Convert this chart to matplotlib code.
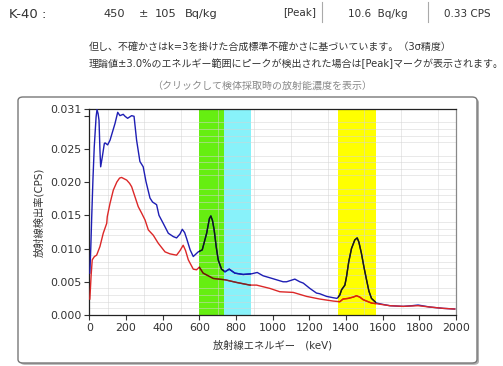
import matplotlib
matplotlib.use('Agg')
import matplotlib.pyplot as plt
import matplotlib.patches as mpatches
from matplotlib.colors import to_rgb
import numpy as np

plt.rcParams['font.family'] = ['DejaVu Sans', 'Noto Sans CJK JP']

# ===== spectrum (keV, CPS) =====
BLUE_KEV = [3, 8, 13, 20, 27, 37, 42, 48, 53, 58, 62, 71, 82, 86, 100, 113, 140, 155,
            167, 185, 195, 209, 231, 244, 258, 276, 294, 309, 331, 345, 367, 380, 403,
            431, 458, 476, 495, 507, 520, 531, 550, 567, 594, 616, 640, 655, 663, 672,
            681, 692, 703, 721, 740, 763, 794, 839, 885, 916, 948, 985, 1021, 1057,
            1076, 1121, 1148, 1167, 1203, 1239, 1257, 1294, 1330, 1351, 1366, 1376,
            1394, 1403, 1415, 1430, 1448, 1461, 1470, 1484, 1498, 1512, 1525, 1539,
            1566, 1600, 1639, 1712, 1760, 1793, 1857, 1930, 1993]
BLUE_CPS = [0.0063, 0.0100, 0.0146, 0.0205, 0.0253, 0.0298, 0.0309, 0.0303, 0.0293,
            0.0248, 0.0223, 0.0238, 0.0258, 0.0259, 0.0256, 0.0263, 0.0288, 0.0305,
            0.0300, 0.0302, 0.0299, 0.0296, 0.0300, 0.0299, 0.0263, 0.0231, 0.0223,
            0.0201, 0.0176, 0.0170, 0.0166, 0.0150, 0.0138, 0.0123, 0.0118, 0.0116,
            0.0122, 0.0129, 0.0124, 0.0115, 0.0098, 0.0088, 0.0095, 0.0098, 0.0123,
            0.0145, 0.0149, 0.0142, 0.0128, 0.0103, 0.0083, 0.0069, 0.0065, 0.0069,
            0.0063, 0.0061, 0.0062, 0.0064, 0.0059, 0.0056, 0.0053, 0.0050, 0.0050,
            0.0054, 0.0050, 0.0048, 0.0040, 0.0033, 0.0032, 0.0028, 0.0026, 0.0025,
            0.0030, 0.0038, 0.0045, 0.0058, 0.0080, 0.0100, 0.0113, 0.0116, 0.0110,
            0.0093, 0.0072, 0.0053, 0.0036, 0.0025, 0.0018, 0.0016, 0.0014, 0.0013,
            0.0014, 0.0015, 0.0012, 0.0010, 0.0009]

RED_KEV = [3, 10, 16, 28, 40, 58, 76, 95, 98, 113, 131, 150, 165, 176, 190, 204, 220,
           231, 249, 267, 286, 304, 322, 349, 376, 413, 440, 476, 495, 512, 525, 540,
           567, 585, 600, 621, 676, 740, 803, 876, 912, 985, 1039, 1112, 1185, 1257,
           1330, 1366, 1384, 1412, 1440, 1457, 1475, 1494, 1539, 1566, 1639, 1712,
           1793, 1857, 1930, 1993]
RED_CPS = [0.0024, 0.0060, 0.0083, 0.0088, 0.0090, 0.0103, 0.0123, 0.0138, 0.0148,
           0.0168, 0.0188, 0.0200, 0.0206, 0.0207, 0.0205, 0.0203, 0.0198, 0.0193,
           0.0178, 0.0163, 0.0153, 0.0143, 0.0128, 0.0120, 0.0108, 0.0095, 0.0092,
           0.0090, 0.0097, 0.0105, 0.0097, 0.0083, 0.0069, 0.0068, 0.0072, 0.0063,
           0.0055, 0.0053, 0.0049, 0.0045, 0.0045, 0.0040, 0.0035, 0.0034, 0.0028,
           0.0024, 0.0021, 0.0020, 0.0024, 0.0025, 0.0027, 0.0029, 0.0027, 0.0023,
           0.0018, 0.0017, 0.0014, 0.0013, 0.0014, 0.0012, 0.0010, 0.0009]

# nuclide energy windows (keV)
BANDS = [(600, 737, '#66ee11'), (737, 880, '#88f2fa'), (1355, 1565, '#ffff00')]

X_TICKS = list(range(0, 2001, 200))
Y_TICKS = [0.000, 0.005, 0.010, 0.015, 0.020, 0.025, 0.031]

BLUE = '#1e1eb4'
RED = '#dc2828'

fig = plt.figure(figsize=(5.03, 3.66), dpi=100)

def fx(px):
    return px / 503

def fy(py):
    return 1 - py / 366

# ----- header text -----
hc = '#333333'
fig.text(fx(9), fy(14), 'K-40 :', fontsize=9.5, color=hc, va='center')
for xp, s in ((103, '450'), (139, '±'), (155, '105'), (185, 'Bq/kg')):
    fig.text(fx(xp), fy(14), s, fontsize=8.2, color=hc, va='center')
fig.text(fx(283), fy(12), '[Peak]', fontsize=7.5, color=hc, va='center')
fig.text(fx(348), fy(14), '10.6  Bq/kg', fontsize=7.5, color=hc, va='center')
fig.text(fx(444), fy(14), '0.33 CPS', fontsize=7.5, color=hc, va='center')
for xs in (322, 428):
    fig.add_artist(plt.Line2D([fx(xs), fx(xs)], [fy(2), fy(22)], color='#aaaaaa', lw=0.8))
fig.text(fx(89), fy(47), '但し、不確かさはk=3を掛けた合成標準不確かさに基づいています。（3σ精度）',
         fontsize=7.2, color=hc, va='center')
fig.text(fx(89), fy(64), '理論値±3.0%のエネルギー範囲にピークが検出された場合は[Peak]マークが表示されます。',
         fontsize=7.2, color=hc, va='center')
fig.text(fx(262), fy(86), '（クリックして検体採取時の放射能濃度を表示）',
         fontsize=7.2, color='#888888', va='center', ha='center')

# ----- panel box with shadow -----
px0, px1, py0, py1 = fx(18), fx(477), fy(363), fy(97)
shadow = mpatches.FancyBboxPatch((px0 + 0.004, py0 - 0.005), px1 - px0, py1 - py0,
                                 boxstyle='round,pad=0,rounding_size=0.01',
                                 transform=fig.transFigure, facecolor='#b0b0b0',
                                 edgecolor='none', zorder=0)
panel = mpatches.FancyBboxPatch((px0, py0), px1 - px0, py1 - py0,
                                boxstyle='round,pad=0,rounding_size=0.01',
                                transform=fig.transFigure, facecolor='white',
                                edgecolor='#777777', lw=1.0, zorder=0.1)
fig.add_artist(shadow)
fig.add_artist(panel)

# ----- plot area -----
ax = fig.add_axes([fx(89.3), fy(315), fx(456 - 89.3), (315 - 109) / 366])
ax.set_zorder(1)
ax.patch.set_alpha(0)

for lo, hi, c in BANDS:
    ax.axvspan(lo, hi, color=c, lw=0, zorder=0.5)

ax.set_xticks(np.arange(0, 2001, 100), minor=True)
ax.set_yticks(np.arange(0, 0.0311, 0.001), minor=True)
ax.grid(which='minor', color='#d4d4d4', lw=0.6, alpha=0.6, zorder=1)
ax.set_axisbelow(True)

ax.plot(BLUE_KEV, BLUE_CPS, color=BLUE, lw=1.0, zorder=3)
ax.plot(RED_KEV, RED_CPS, color=RED, lw=1.0, zorder=3)

# lines look multiplied by the band colour inside each window
for lo, hi, c in BANDS:
    bc = np.array(to_rgb(c))
    for xs, ys, lc in ((BLUE_KEV, BLUE_CPS, BLUE), (RED_KEV, RED_CPS, RED)):
        clip = mpatches.Rectangle((lo, 0), hi - lo, 0.031, transform=ax.transData)
        ln, = ax.plot(xs, ys, color=tuple(np.array(to_rgb(lc)) * bc), lw=1.0, zorder=3.5)
        ln.set_clip_path(clip)

ax.set_xlim(0, 2000)
ax.set_ylim(0, 0.031)
ax.set_xticks(X_TICKS)
ax.set_yticks(Y_TICKS + [0.030])
ax.set_yticklabels([f'{v:.3f}' for v in Y_TICKS] + [''])
ax.tick_params(which='major', direction='out', length=3.5, width=0.8, labelsize=7.9,
               labelcolor='#333333', color='#333333', pad=2)
ax.tick_params(which='minor', length=0)
for s in ax.spines.values():
    s.set_color('#222222')
    s.set_linewidth(0.9)
ax.spines['right'].set_color('#888888')

ax.set_xlabel('放射線エネルギー　(keV)', fontsize=7.4, color='#333333', labelpad=5)
ax.set_ylabel('放射線検出率(CPS)', fontsize=7.4, color='#333333', labelpad=4)

fig.savefig('out.png', dpi=100)
